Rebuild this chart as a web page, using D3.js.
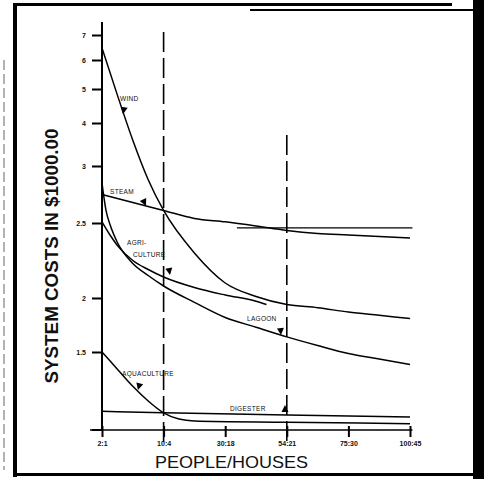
<!DOCTYPE html>
<html>
<head>
<meta charset="utf-8">
<script src="https://cdn.jsdelivr.net/npm/d3@7"></script>
<style>
  html, body { margin: 0; padding: 0; background: #fff; overflow: hidden; }
  svg { display: block; }
  text { font-family: "Liberation Sans", Arial, sans-serif; fill: #111; }
</style>
</head>
<body>
<svg id="chart" width="484" height="479"></svg>
<script>
// ---- data (x = position in category units, value = cost in $1000) ----
const categories = ["2:1", "10:4", "30:18", "54:21", "75:30", "100:45"];
const yTickValues = [7, 6, 5, 4, 3, 2.5, 2, 1.5];
const yTickLabels = ["7", "6", "5", "4", "3", "2.5", "2", "1.5"];

const windData = [[0,6.48],[0.25,4.82],[0.5,3.60],[0.75,2.88],[1,2.61],[1.5,2.30],[2,2.10],[2.5,2.01],[3,1.94],[3.5,1.91],[4,1.87],[4.5,1.84],[5,1.81]];
const steamData = [[0,2.75],[0.5,2.68],[1,2.61],[1.5,2.54],[2,2.51],[2.5,2.48],[3,2.45],[3.5,2.43],[4,2.42],[4.5,2.41],[5,2.40]];
const agricultureData = [[0,2.51],[0.13,2.42],[0.25,2.35],[0.5,2.25],[0.75,2.19],[1,2.14],[1.5,2.07],[2,2.02],[2.5,1.97],[2.67,1.94]];
const lagoonData = [[0,2.85],[0.065,2.61],[0.13,2.49],[0.25,2.37],[0.5,2.23],[0.75,2.15],[1,2.08],[1.5,1.96],[2,1.82],[2.5,1.73],[3,1.64],[3.5,1.56],[4,1.49],[4.5,1.455],[5,1.42]];
const aquacultureData = [[0,1.50],[0.25,1.39],[0.5,1.28],[0.75,1.186],[1,1.11],[1.25,1.07],[1.5,1.058],[3,1.05],[5,1.04]];
const digesterData = [[0,1.12],[1,1.11],[3,1.096],[5,1.083]];
const steamRefLine = [[2.19,2.467],[5.04,2.467]];

// vertical dashed reference lines: x position, value range
const dashedLines = [{x:1, from:0.92, to:7.12}, {x:3, from:0.92, to:3.72}];

// curve labels: text, x (category units), value (baseline)
const curveLabels = [
  {text:"WIND", x:0.292, v:4.65},
  {text:"STEAM", x:0.13, v:2.754},
  {text:"AGRI-", x:0.406, v:2.353},
  {text:"CULTURE", x:0.503, v:2.273},
  {text:"LAGOON", x:2.354, v:1.787},
  {text:"AQUACULTURE", x:0.325, v:1.346},
  {text:"DIGESTER", x:2.078, v:1.122}
];
// arrowheads: tip (category units, value) and pointing angle (deg)
const arrows = [
  {x:0.341, v:4.26, a:100},
  {x:0.714, v:2.65, a:65},
  {x:1.104, v:2.153, a:80},
  {x:2.906, v:1.657, a:85},
  {x:0.584, v:1.256, a:105},
  {x:2.971, v:1.16, a:-90}
];

// ---- scales ----
const svg = d3.select("#chart");
const x = d3.scaleLinear().domain([0, 5]).range([102, 410]);
// hand-drawn, non-uniform vertical scale (piecewise linear)
const y = d3.scaleLinear()
  .domain([1, 1.5, 2, 2.5, 3, 4, 5, 6, 7])
  .range([430, 352, 298, 223, 166, 123, 89, 60, 35]);

// ---- axes ----
const yAxis = d3.axisLeft(y).tickValues(yTickValues)
  .tickFormat((d, i) => yTickLabels[i]).tickSizeInner(10).tickSizeOuter(0).tickPadding(6);
const gy = svg.append("g").attr("transform", "translate(102,0)").call(yAxis);
gy.select(".domain").remove();
gy.selectAll(".tick line").attr("stroke", "#000").attr("stroke-width", 2);
gy.selectAll(".tick text").attr("font-size", 7).attr("font-weight", "bold");
svg.append("line").attr("x1", x(0)).attr("x2", x(0)).attr("y1", y(7.52)).attr("y2", y(1))
  .attr("stroke", "#000").attr("stroke-width", 2);
svg.append("line").attr("x1", 92).attr("x2", x(0)).attr("y1", y(1)).attr("y2", y(1))
  .attr("stroke", "#000").attr("stroke-width", 2);

const xAxis = d3.axisBottom(x).tickValues(d3.range(categories.length))
  .tickFormat(i => categories[i]).tickSizeInner(7).tickSizeOuter(0).tickPadding(4);
const gx = svg.append("g").attr("transform", `translate(0,${y(1)})`).call(xAxis);
gx.select(".domain").remove();
gx.selectAll(".tick line").attr("y1", -4).attr("stroke", "#000").attr("stroke-width", 2);
gx.selectAll(".tick text").attr("font-size", 7).attr("font-weight", "bold");
svg.append("line").attr("x1", 90).attr("x2", x(5.04)).attr("y1", y(1)).attr("y2", y(1))
  .attr("stroke", "#000").attr("stroke-width", 1.6);

// ---- dashed verticals ----
svg.selectAll(".vdash").data(dashedLines).join("line").attr("class", "vdash")
  .attr("x1", d => x(d.x)).attr("x2", d => x(d.x))
  .attr("y1", d => y(d.to)).attr("y2", d => y(d.from))
  .attr("stroke", "#000").attr("stroke-width", 1.6).attr("stroke-dasharray", "20,6");

// ---- curves ----
const line = d3.line().x(d => x(d[0])).y(d => y(d[1])).curve(d3.curveMonotoneX);
[windData, steamData, agricultureData, lagoonData, aquacultureData, digesterData].forEach(s => {
  svg.append("path").datum(s).attr("d", line).attr("fill", "none")
    .attr("stroke", "#000").attr("stroke-width", 1.5);
});
svg.append("path").datum(steamRefLine).attr("d", d3.line().x(d => x(d[0])).y(d => y(d[1])))
  .attr("fill", "none").attr("stroke", "#000").attr("stroke-width", 1.2);

// ---- labels & arrowheads ----
svg.selectAll(".clabel").data(curveLabels).join("text").attr("class", "clabel")
  .attr("x", d => x(d.x)).attr("y", d => y(d.v))
  .attr("font-size", 6.5).attr("letter-spacing", 0.3).text(d => d.text);

svg.selectAll(".arrow").data(arrows).join("path").attr("class", "arrow")
  .attr("d", "M0,0 L-7,-3.5 L-7,3.5 Z")
  .attr("transform", d => `translate(${x(d.x)},${y(d.v)}) rotate(${d.a})`)
  .attr("fill", "#000");

// ---- titles ----
svg.append("text").attr("x", 155).attr("y", 468).attr("font-size", 17)
  .attr("textLength", 153).attr("lengthAdjust", "spacingAndGlyphs").text("PEOPLE/HOUSES");
svg.append("text").attr("transform", "translate(58,256) rotate(-90)")
  .attr("text-anchor", "middle").attr("font-size", 19).attr("font-weight", "bold")
  .attr("textLength", 255).attr("lengthAdjust", "spacingAndGlyphs")
  .text("SYSTEM COSTS IN $1000.00");

// ---- frame (scan border), drawn last ----
const frame = svg.append("g").attr("class", "frame");
frame.append("rect").attr("x", 473).attr("y", 0).attr("width", 11).attr("height", 479).attr("fill", "#000");
frame.append("rect").attr("x", 13).attr("y", 3).attr("width", 439).attr("height", 3).attr("fill", "#000");
frame.append("rect").attr("x", 250).attr("y", 9).attr("width", 224).attr("height", 2).attr("fill", "#000");
frame.append("rect").attr("x", 13).attr("y", 3).attr("width", 4).attr("height", 474).attr("fill", "#000");
frame.append("rect").attr("x", 13).attr("y", 473).attr("width", 461).attr("height", 3).attr("fill", "#000");
frame.append("line").attr("x1", 4).attr("x2", 4).attr("y1", 60).attr("y2", 470)
  .attr("stroke", "#666").attr("stroke-width", 1).attr("stroke-dasharray", "10,4");
</script>
</body>
</html>
